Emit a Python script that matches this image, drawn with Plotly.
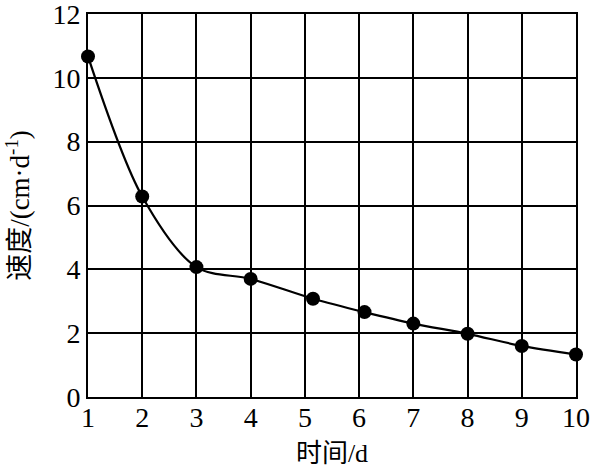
import plotly.graph_objects as go

days = [1, 2, 3, 4, 5.15, 6.1, 7, 8, 9, 10]
speed = [10.67, 6.28, 4.07, 3.7, 3.08, 2.66, 2.3, 1.98, 1.6, 1.33]
x_ticks = [1, 2, 3, 4, 5, 6, 7, 8, 9, 10]
y_ticks = [0, 2, 4, 6, 8, 10, 12]

font_family = "Liberation Serif, Times New Roman, Noto Sans CJK SC, serif"

fig = go.Figure()
fig.add_trace(go.Scatter(
    x=days, y=speed, mode="lines+markers",
    line=dict(color="black", width=2.2, shape="spline", smoothing=0.9),
    marker=dict(color="black", size=14),
    cliponaxis=False, showlegend=False,
))

axis_common = dict(
    showline=True, linecolor="black", linewidth=2, mirror=True,
    showgrid=True, gridcolor="black", gridwidth=1.6,
    zeroline=False, ticks="", color="black", automargin=False,
    ticklabeloverflow="allow",
    tickfont=dict(family=font_family, size=28, color="black"),
)

fig.update_xaxes(
    range=[1, 10], tickvals=x_ticks, ticktext=[str(v) for v in x_ticks],
    ticklabelstandoff=-6,
    title=dict(text="时间/d", font=dict(family=font_family, size=26, color="black")),
    **axis_common,
)
fig.update_yaxes(
    range=[0, 12], tickvals=y_ticks, ticktext=[str(v) for v in y_ticks],
    title=dict(text="速度/(cm·d<sup>-1</sup>)", font=dict(family=font_family, size=27, color="black")),
    **axis_common,
)

fig.update_layout(
    width=593, height=468,
    margin=dict(l=88, r=17, t=14, b=71),
    plot_bgcolor="white", paper_bgcolor="white",
    font=dict(family=font_family, color="black"),
)

fig.write_html(
    "out.html",
    config={"displayModeBar": False},
    post_script="document.body.style.margin='0';document.body.style.overflow='hidden';",
)
